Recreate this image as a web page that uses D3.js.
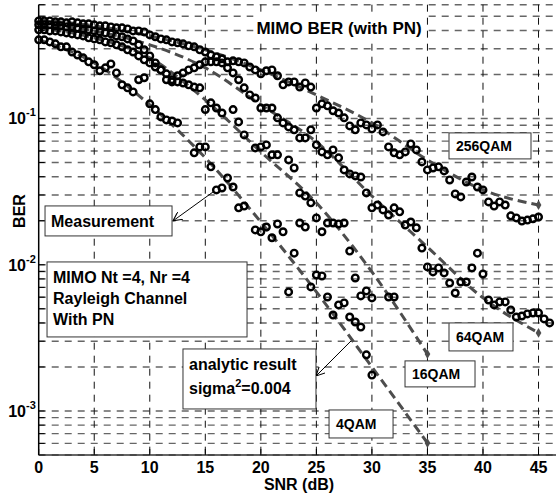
<!DOCTYPE html>
<html>
<head>
<meta charset="utf-8">
<script src="https://cdn.jsdelivr.net/npm/d3@7"></script>
<style>
    body { margin: 0; background: #fff; }
    text { font-family: "Liberation Sans", Arial, sans-serif; font-weight: bold; fill: #000; }
</style>
</head>
<body>
<div id="chart"></div>
<script>
// x ticks (SNR, dB) and labelled decades of the BER axis
const snrTicks = [0, 5, 10, 15, 20, 25, 30, 35, 40, 45];
const berLabels = [{v: 1e-1, exp: "-1"}, {v: 1e-2, exp: "-2"}, {v: 1e-3, exp: "-3"}];

// analytic result (sigma^2 = 0.004), [SNR, BER]
const a4QAM = [[0,0.345],[5,0.240],[10,0.124],[15,0.0538],[20,0.0196],[25,0.00652],[30,0.00200],[35,0.000604]];
const a16QAM = [[0,0.417],[5,0.356],[10,0.260],[15,0.134],[20,0.0591],[25,0.0265],[30,0.00893],[35,0.00245]];
const a64QAM = [[0,0.444],[5,0.397],[10,0.319],[15,0.222],[20,0.124],[25,0.0692],[30,0.0295],[35,0.0132],[40,0.00593],[45,0.00342]];
const a256QAM = [[0,0.4725],[5,0.430],[10,0.367],[15,0.295],[20,0.215],[25,0.145],[30,0.0933],[35,0.0521],[40,0.0325],[45,0.0256]];

// measurement, [SNR, BER]
const m4QAM = [[0,0.345],[0.5,0.345],[1,0.334],[1.5,0.324],[2,0.309],[2.5,0.309],[3,0.285],[3.5,0.272],[4,0.260],[4.5,0.244],
    [5,0.233],[5.5,0.212],[6,0.222],[6.5,0.236],[7,0.205],[7.5,0.170],[8,0.162],[8.5,0.152],[9,0.184],[9.5,0.190],
    [10,0.126],[10.5,0.115],[11,0.1025],[11.5,0.0978],[12,0.0963],[12.5,0.0933],[14,0.0582],[14.5,0.0639],[15,0.0639],[15.5,0.0467],
    [16,0.0325],[16.5,0.0335],[17,0.0392],[17.5,0.0340],[18,0.0245],[18.5,0.0252],[19.5,0.0173],[20,0.0168],[20.5,0.0181],[21,0.0153],
    [21.5,0.0190],[22,0.0168],[22.5,0.00652],[23,0.0120],[23.5,0.0193],[24,0.0181],[24.5,0.00705],[25,0.00851],[25.5,0.00838],[26,0.00602],
    [26.5,0.00453],[27,0.00531],[27.5,0.00548],[28,0.00439],[28.5,0.00406],[29,0.00375],[29.5,0.00242],[30,0.00176]];
const m16QAM = [[0,0.404],[0.5,0.404],[1,0.397],[1.5,0.397],[2,0.391],[2.5,0.385],[3,0.379],[3.5,0.373],[4,0.367],[4.5,0.356],
    [5,0.350],[5.5,0.345],[6,0.334],[6.5,0.329],[7,0.319],[7.5,0.309],[8,0.295],[8.5,0.285],[9,0.268],[9.5,0.252],
    [10,0.240],[10.5,0.225],[11,0.215],[11.5,0.202],[12,0.184],[12.5,0.178],[13,0.175],[13.5,0.170],[14,0.164],[14.5,0.162],
    [15,0.115],[15.5,0.128],[16,0.118],[16.5,0.109],[17.5,0.115],[18,0.0948],[18.5,0.0772],[19.5,0.0629],[20,0.0639],[20.5,0.0660],
    [21,0.0564],[21.5,0.0564],[22.5,0.0521],[23,0.0459],[23.5,0.0310],[24,0.0295],[24.5,0.0265],[25,0.0209],[25.5,0.0168],[26,0.0193],
    [26.5,0.0193],[27,0.0190],[27.5,0.0193],[28,0.0124],[28.5,0.00812],[29,0.00612],[29.5,0.00662],[30,0.00593],[31.5,0.00602],[32,0.00602]];
const m64QAM = [[0,0.437],[0.5,0.437],[1,0.437],[1.5,0.430],[2,0.430],[2.5,0.423],[3,0.423],[3.5,0.417],[4,0.410],[4.5,0.404],
    [5,0.397],[5.5,0.391],[6,0.385],[6.5,0.379],[7,0.367],[7.5,0.362],[8,0.350],[8.5,0.339],[9,0.319],[9.5,0.295],
    [10,0.268],[10.5,0.240],[11,0.215],[11.5,0.184],[12,0.178],[12.5,0.196],[13,0.205],[13.5,0.215],[14,0.222],[14.5,0.233],
    [15,0.244],[15.5,0.244],[16,0.244],[16.5,0.240],[17,0.222],[17.5,0.205],[18,0.184],[18.5,0.162],[19,0.145],[19.5,0.138],
    [20,0.118],[20.5,0.118],[21,0.118],[21.5,0.101],[22,0.0933],[22.5,0.0876],[23,0.0836],[23.5,0.0737],[24,0.0737],[24.5,0.0836],
    [25,0.0660],[25.5,0.0591],[26,0.0564],[26.5,0.0610],[27,0.0538],[27.5,0.0445],[28,0.0418],[28.5,0.0405],[29,0.0398],[29.5,0.0310],
    [30,0.0245],[30.5,0.0256],[31,0.0237],[31.5,0.0219],[32,0.0245],[32.5,0.0230],[33,0.0187],[33.5,0.0196],[34,0.0179],[34.5,0.0130],
    [35,0.00966],[35.5,0.00893],[36,0.00951],[36.5,0.00879],[37,0.00750],[37.5,0.00641],[38,0.00762],[38.5,0.00762],[39,0.00951],[39.5,0.0120],
    [40,0.00865],[40.5,0.00574],[41,0.00531],[41.5,0.00557],[42,0.00557],[42.5,0.00491],[43,0.00439],[43.5,0.00446],[44,0.00461],[44.5,0.00468],
    [45,0.00468],[45.5,0.00426],[46,0.00400]];
const m256QAM = [[0,0.465],[0.5,0.465],[1,0.465],[1.5,0.458],[2,0.458],[2.5,0.451],[3,0.458],[3.5,0.451],[4,0.444],[4.5,0.444],
    [5,0.437],[5.5,0.430],[6,0.430],[6.5,0.423],[7,0.417],[7.5,0.417],[8,0.410],[8.5,0.397],[9,0.397],[9.5,0.391],
    [10,0.373],[10.5,0.362],[11,0.350],[11.5,0.345],[12,0.334],[12.5,0.329],[13,0.324],[13.5,0.314],[14,0.309],[14.5,0.295],
    [15,0.285],[15.5,0.272],[16,0.264],[16.5,0.256],[17,0.244],[17.5,0.248],[18,0.244],[18.5,0.240],[19,0.225],[19.5,0.215],
    [20,0.202],[20.5,0.212],[21,0.215],[21.5,0.196],[22,0.170],[22.5,0.178],[23,0.178],[23.5,0.164],[24,0.175],[24.5,0.164],
    [25,0.118],[25.5,0.126],[26,0.122],[26.5,0.113],[27,0.109],[27.5,0.101],[28,0.0890],[28.5,0.0836],[29,0.0933],[29.5,0.0904],
    [30,0.0849],[30.5,0.0904],[31,0.0810],[31.5,0.0639],[32,0.0582],[32.5,0.0564],[33,0.0591],[33.5,0.0670],[34,0.0610],[34.5,0.0505],
    [35,0.0445],[35.5,0.0459],[36,0.0467],[36.5,0.0438],[37,0.0380],[37.5,0.0305],[38,0.0291],[38.5,0.0368],[39,0.0398],[39.5,0.0340],
    [40,0.0325],[40.5,0.0269],[41,0.0252],[41.5,0.0269],[42,0.0256],[42.5,0.0216],[43,0.0209],[43.5,0.0199],[44,0.0202],[44.5,0.0206],
    [45,0.0212]];

// text boxes: top-left corner in data units (SNR, BER)
const notes = [
    {snr: 36.94, ber: 0.0797, w: 82, h: 26, size: 14, lines: ["256QAM"]},
    {snr: 36.94, ber: 0.0040, w: 64, h: 28, size: 14, lines: ["64QAM"]},
    {snr: 32.98, ber: 0.0022, w: 70, h: 26, size: 14, lines: ["16QAM"]},
    {snr: 26.14, ber: 0.001016, w: 64, h: 28, size: 14, lines: ["4QAM"]},
    {snr: 0.57, ber: 0.02524, w: 127, h: 30, size: 16, lines: ["Measurement"]},
    {snr: 0.75, ber: 0.01045, w: 200, h: 75, size: 16, lines: ["MIMO Nt =4, Nr =4", "Rayleigh Channel", "With PN"]}
];
const arrows = [
    {from: [15.71, 0.0315], to: [12.09, 0.01994]},
    {from: [28.12, 0.003013], to: [24.97, 0.001735]}
];

const width = 556, height = 496;
let svg = d3.select("#chart").append("svg")
    .attr("width", width)
    .attr("height", height);

let x = d3.scaleLinear().domain([0, 46.6]).range([38.7, 556.3]);
let y = d3.scaleLog().domain([5e-4, 0.6]).range([455, 4.7]);

// grid
svg.append("g").selectAll("line")
    .data(y.ticks())
    .enter().append("line")
    .attr("x1", x(0)).attr("x2", width)
    .attr("y1", d => y(d)).attr("y2", d => y(d))
    .attr("stroke", "#666").attr("stroke-width", 1.4)
    .attr("stroke-dasharray", "7,6");
svg.append("g").selectAll("line")
    .data(snrTicks.slice(1))
    .enter().append("line")
    .attr("x1", d => x(d)).attr("x2", d => x(d))
    .attr("y1", y(0.6)).attr("y2", y(5e-4))
    .attr("stroke", "#111").attr("stroke-width", 1)
    .attr("stroke-dasharray", "7,6");

// minor ticks on the left axis
svg.append("g").selectAll("line")
    .data(y.ticks())
    .enter().append("line")
    .attr("x1", x(0)).attr("x2", x(0) + 6)
    .attr("y1", d => y(d)).attr("y2", d => y(d))
    .attr("stroke", "#000").attr("stroke-width", 1);

// axes lines
svg.append("line")
    .attr("x1", x(0)).attr("x2", x(0))
    .attr("y1", y(0.6)).attr("y2", y(5e-4))
    .attr("stroke", "#000").attr("stroke-width", 1.5);
svg.append("line")
    .attr("x1", x(0)).attr("x2", width)
    .attr("y1", y(5e-4)).attr("y2", y(5e-4))
    .attr("stroke", "#333").attr("stroke-width", 1.5);

// analytic dashed curves
let line = d3.line()
    .x(d => x(d[0]))
    .y(d => y(d[1]))
    .curve(d3.curveMonotoneX);
let analytic = [a4QAM, a16QAM, a64QAM, a256QAM];
svg.append("g").selectAll("path")
    .data(analytic)
    .enter().append("path")
    .attr("d", line)
    .attr("fill", "none")
    .attr("stroke", "#4d4d4d")
    .attr("stroke-width", 3)
    .attr("stroke-dasharray", "9,5");
svg.append("g").selectAll("path")
    .data(analytic.map(s => s[s.length - 1]))
    .enter().append("path")
    .attr("d", d3.symbol(d3.symbolDiamond, 28))
    .attr("transform", d => `translate(${x(d[0])},${y(d[1])})`)
    .attr("fill", "#4d4d4d");

// measurement circles
let measured = [m4QAM, m16QAM, m64QAM, m256QAM];
measured.forEach(function (s) {
    svg.append("g").selectAll("circle")
        .data(s)
        .enter().append("circle")
        .attr("cx", d => x(d[0]))
        .attr("cy", d => y(d[1]))
        .attr("r", 3.3)
        .attr("fill", "none")
        .attr("stroke", "#000")
        .attr("stroke-width", 2.4);
});

// title with white background
let title = svg.append("text")
    .attr("x", x(27.04)).attr("y", y(0.379))
    .attr("text-anchor", "middle")
    .style("font-size", "17px")
    .text("MIMO BER (with PN)");
let tb = title.node().getBBox();
svg.insert("rect", "text")
    .attr("x", tb.x - 3).attr("y", tb.y - 5)
    .attr("width", tb.width + 6).attr("height", tb.height + 8)
    .attr("fill", "#fff");

// text boxes
notes.forEach(function (n) {
    let g = svg.append("g")
        .attr("transform", `translate(${x(n.snr)},${y(n.ber)})`);
    g.append("rect")
        .attr("width", n.w).attr("height", n.h)
        .attr("fill", "#fff").attr("stroke", "#333").attr("stroke-width", 1);
    n.lines.forEach(function (t, i) {
        g.append("text")
            .attr("x", n.size == 14 ? 7 : 6)
            .attr("y", (n.size == 14 ? n.h / 2 + 5 : 21) + i * 21)
            .style("font-size", n.size + "px")
            .text(t);
    });
});

// analytic result box (with superscript)
let ag = svg.append("g")
    .attr("transform", `translate(${x(12.99)},${y(0.002655)})`);
ag.append("rect")
    .attr("width", 133).attr("height", 60)
    .attr("fill", "#fff").attr("stroke", "#333").attr("stroke-width", 1);
ag.append("text").attr("x", 6).attr("y", 21).style("font-size", "16px").text("analytic result");
let sig = ag.append("text").attr("x", 6).attr("y", 45).style("font-size", "16px");
sig.append("tspan").text("sigma");
sig.append("tspan").attr("dy", -7).style("font-size", "11px").text("2");
sig.append("tspan").attr("dy", 7).text("=0.004");

// arrows
svg.append("defs").append("marker")
    .attr("id", "head")
    .attr("viewBox", "0 0 10 10")
    .attr("refX", 10).attr("refY", 5)
    .attr("markerWidth", 9).attr("markerHeight", 9)
    .attr("markerUnits", "userSpaceOnUse")
    .attr("orient", "auto")
    .append("path")
    .attr("d", "M0,0 L10,5 L0,10")
    .attr("fill", "none").attr("stroke", "#000").attr("stroke-width", 1.2);
svg.append("g").selectAll("line")
    .data(arrows)
    .enter().append("line")
    .attr("x1", d => x(d.from[0])).attr("y1", d => y(d.from[1]))
    .attr("x2", d => x(d.to[0])).attr("y2", d => y(d.to[1]))
    .attr("stroke", "#000").attr("stroke-width", 1)
    .attr("marker-end", "url(#head)");

// x ticks and labels
svg.append("g").selectAll("line")
    .data(snrTicks)
    .enter().append("line")
    .attr("x1", d => x(d)).attr("x2", d => x(d))
    .attr("y1", y(5e-4)).attr("y2", y(5e-4) - 6)
    .attr("stroke", "#000").attr("stroke-width", 1);
svg.append("g").selectAll("text")
    .data(snrTicks)
    .enter().append("text")
    .attr("x", d => x(d)).attr("y", 473)
    .attr("text-anchor", "middle")
    .style("font-size", "16px")
    .text(d => d);

// y labels 10^-n
let yl = svg.append("g").selectAll("g")
    .data(berLabels)
    .enter().append("g");
yl.append("text")
    .attr("x", 26).attr("y", d => y(d.v) + 6)
    .attr("text-anchor", "end")
    .style("font-size", "16px")
    .text("10");
yl.append("text")
    .attr("x", 26).attr("y", d => y(d.v) - 2)
    .style("font-size", "11px")
    .text(d => d.exp);

// axis titles
svg.append("text")
    .attr("x", 299).attr("y", 490)
    .attr("text-anchor", "middle")
    .style("font-size", "16px")
    .text("SNR (dB)");
svg.append("text")
    .attr("transform", "translate(25,211) rotate(-90)")
    .attr("text-anchor", "middle")
    .style("font-size", "16px")
    .text("BER");
</script>
</body>
</html>
